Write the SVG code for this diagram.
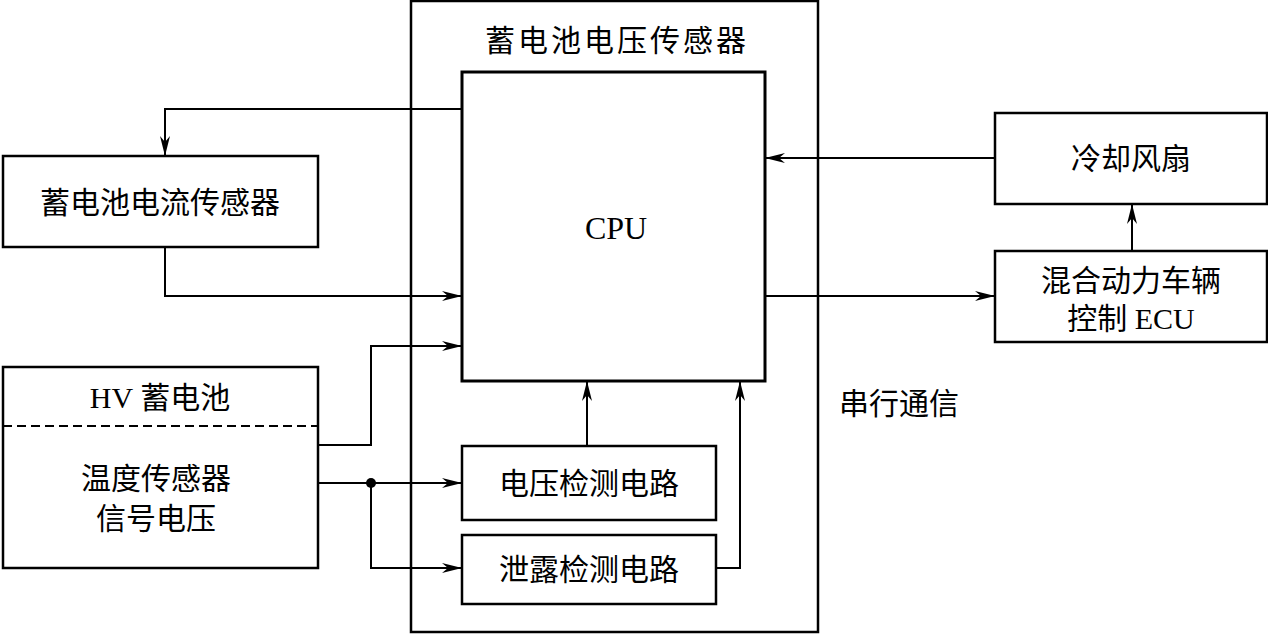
<svg xmlns="http://www.w3.org/2000/svg" width="1268" height="634" viewBox="0 0 1268 634">
<style>
.box{fill:none;stroke:#000;stroke-width:2.5}
.thick{fill:none;stroke:#000;stroke-width:3}
.ln{fill:none;stroke:#000;stroke-width:2}
.t{font-family:"Liberation Serif","Noto Sans CJK SC",serif;font-size:30px;fill:#000;text-anchor:middle;dominant-baseline:central}
</style>
<defs>
<marker id="ar" viewBox="0 0 20 10" refX="20" refY="5" markerWidth="20" markerHeight="10" markerUnits="userSpaceOnUse" orient="auto">
<path d="M0,0 L20,5 L0,10 L6,5 z" fill="#000"/>
</marker>
</defs>
<rect width="1268" height="634" fill="#fff"/>
<g id="battery-voltage-sensor">
<rect class="box" x="411" y="1" width="407" height="631"/>
<text class="t" x="617" y="40" letter-spacing="3">蓄电池电压传感器</text>
</g>
<g id="cpu">
<rect class="thick" x="462" y="72" width="303" height="309"/>
<text class="t" x="616" y="228" style="font-size:32px">CPU</text>
</g>
<g id="current-sensor">
<rect class="box" x="3" y="156" width="315" height="91"/>
<text class="t" x="160" y="202">蓄电池电流传感器</text>
</g>
<g id="hv-battery">
<rect class="box" x="3" y="367" width="315" height="201"/>
<line x1="3" y1="426" x2="318" y2="426" stroke="#000" stroke-width="2" stroke-dasharray="9,5"/>
<text class="t" x="160" y="397">HV 蓄电池</text>
<text class="t" x="156" y="478">温度传感器</text>
<text class="t" x="156" y="518">信号电压</text>
</g>
<g id="voltage-detect">
<rect class="box" x="462" y="446" width="254" height="74"/>
<text class="t" x="589" y="483">电压检测电路</text>
</g>
<g id="leak-detect">
<rect class="box" x="462" y="535" width="254" height="69"/>
<text class="t" x="589" y="569">泄露检测电路</text>
</g>
<g id="cooling-fan">
<rect class="box" x="995" y="113" width="272" height="91"/>
<text class="t" x="1131" y="158">冷却风扇</text>
</g>
<g id="hv-ecu">
<rect class="box" x="995" y="251" width="272" height="91"/>
<text class="t" x="1131" y="280">混合动力车辆</text>
<text class="t" x="1131" y="318">控制 ECU</text>
</g>
<g id="serial-label">
<text class="t" x="899" y="403">串行通信</text>
</g>
<g id="connectors">
<polyline class="ln" points="462,109 165,109 165,156" marker-end="url(#ar)"/>
<polyline class="ln" points="165,247 165,296 462,296" marker-end="url(#ar)"/>
<polyline class="ln" points="318,445 371,445 371,346 462,346" marker-end="url(#ar)"/>
<polyline class="ln" points="318,483 462,483" marker-end="url(#ar)"/>
<polyline class="ln" points="371,483 371,568 462,568" marker-end="url(#ar)"/>
<circle cx="371" cy="483" r="5" fill="#000"/>
<polyline class="ln" points="587,446 587,381" marker-end="url(#ar)"/>
<polyline class="ln" points="716,568 740,568 740,381" marker-end="url(#ar)"/>
<polyline class="ln" points="995,158 765,158" marker-end="url(#ar)"/>
<polyline class="ln" points="765,296 995,296" stroke-width="3" marker-end="url(#ar)"/>
<polyline class="ln" points="1132,251 1132,204" marker-end="url(#ar)"/>
</g>
</svg>
